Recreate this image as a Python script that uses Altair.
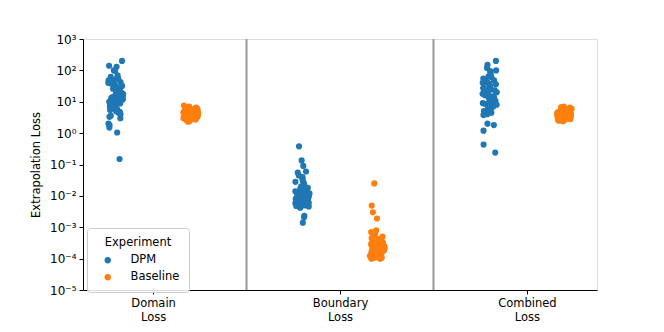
import json
import altair as alt
import pandas as pd

categories = ["Domain Loss", "Boundary Loss", "Combined Loss"]
experiments = ["DPM", "Baseline"]
colors = ["#1f77b4", "#ff7f0e"]
tick_values = [1e-5, 1e-4, 1e-3, 1e-2, 1e-1, 1e0, 1e1, 1e2, 1e3]
tick_labels = ["10⁻⁵", "10⁻⁴", "10⁻³", "10⁻²", "10⁻¹", "10⁰", "10¹", "10²", "10³"]

domain_dpm = [200, 140, 130, 100, 98, 70, 62, 55, 52, 48, 45, 42, 40, 38, 35, 32, 30, 28, 26, 25,
              24, 22, 21, 20, 19, 18, 17.5, 17, 16, 15.5, 15, 14, 13.5, 13, 12.5, 12, 11.5, 11, 10.5, 10,
              10, 9.8, 9.5, 9, 8.8, 8.5, 8, 7.8, 7.5, 7, 6.8, 6.5, 6, 5.8, 5.5, 5, 4.8, 4.5, 4, 3.6,
              3.3, 3.0, 2.0, 1.8, 1.5, 1.05, 0.15]
domain_base = [7.5, 7.0, 6.8, 6.5, 6.2, 6.0, 6.0, 5.8, 5.6, 5.5, 5.4, 5.3, 5.2, 5.1, 5.0, 4.9, 4.8, 4.8,
               4.7, 4.6, 4.5, 4.5, 4.4, 4.3, 4.2, 4.2, 4.1, 4.0, 4.0, 3.9, 3.9, 3.8, 3.8, 3.7, 3.7, 3.6,
               3.6, 3.5, 3.5, 3.4, 3.4, 3.3, 3.3, 3.2, 3.2, 3.1, 3.0, 3.0, 2.9, 2.9, 2.8, 2.7, 2.6, 2.5,
               2.4, 2.3, 4.6, 4.4, 5.5, 3.9]
boundary_dpm = [0.38, 0.135, 0.09, 0.06, 0.055, 0.045, 0.04, 0.035, 0.03, 0.028, 0.025, 0.022, 0.02,
                0.018, 0.017, 0.016, 0.015, 0.014, 0.013, 0.013, 0.012, 0.012, 0.011, 0.011, 0.011,
                0.010, 0.010, 0.010, 0.0098, 0.0095, 0.0093, 0.009, 0.009, 0.0088, 0.0085, 0.0083,
                0.008, 0.008, 0.0078, 0.0075, 0.0073, 0.007, 0.007, 0.0068, 0.0065, 0.0063, 0.006,
                0.006, 0.0058, 0.0055, 0.0053, 0.005, 0.005, 0.0048, 0.0046, 0.0044, 0.0042, 0.0023,
                0.0021, 0.0014]
boundary_base = [0.025, 0.0049, 0.003, 0.0019, 0.0008, 0.0007, 0.00065, 0.0006, 0.00055, 0.0005,
                 0.00048, 0.00045, 0.00042, 0.0004, 0.00038, 0.00036, 0.00035, 0.00033, 0.00032,
                 0.0003, 0.0003, 0.00029, 0.00028, 0.00027, 0.00026, 0.00025, 0.00025, 0.00024,
                 0.00023, 0.00022, 0.00022, 0.00021, 0.0002, 0.0002, 0.00019, 0.00019, 0.00018,
                 0.00018, 0.00017, 0.00017, 0.00016, 0.00016, 0.00015, 0.00015, 0.00015, 0.00014,
                 0.00014, 0.00013, 0.00013, 0.00013, 0.00012, 0.00012, 0.00012, 0.00011, 0.00011,
                 0.00011, 0.000105, 0.000105, 0.0001, 0.0001]
combined_dpm = [200, 150, 120, 100, 95, 90, 80, 70, 65, 60, 55, 50, 48, 45, 42, 40, 38, 36, 34, 32,
                30, 28, 27, 26, 25, 24, 23, 22, 21, 20, 19, 18, 17, 16, 15, 14, 13.5, 13, 12, 11.5,
                11, 10.5, 10, 9.5, 9, 8.5, 8, 7.5, 7, 6.5, 6, 5.5, 5, 4.5, 4.0, 3.8, 2.0, 1.8, 1.2,
                0.43, 0.24]
combined_base = [7.0, 6.8, 6.5, 6.3, 6.1, 6.0, 5.8, 5.7, 5.5, 5.4, 5.3, 5.2, 5.1, 5.0, 4.9, 4.8, 4.8,
                 4.7, 4.6, 4.5, 4.5, 4.4, 4.3, 4.2, 4.2, 4.1, 4.0, 4.0, 3.9, 3.9, 3.8, 3.8, 3.7, 3.7,
                 3.6, 3.6, 3.5, 3.5, 3.4, 3.4, 3.3, 3.3, 3.2, 3.2, 3.1, 3.0, 3.0, 2.9, 2.9, 2.8, 2.7,
                 2.6, 2.5, 2.4, 4.6, 4.4, 5.5, 3.9]

groups = [
    (categories[0], experiments[0], domain_dpm),
    (categories[0], experiments[1], domain_base),
    (categories[1], experiments[0], boundary_dpm),
    (categories[1], experiments[1], boundary_base),
    (categories[2], experiments[0], combined_dpm),
    (categories[2], experiments[1], combined_base),
]
rows = []
for cat, exp, vals in groups:
    for v in vals:
        rows.append({"category": cat, "experiment": exp, "loss": v})
df = pd.DataFrame(rows)

cats_js = json.dumps(categories)
labels_js = json.dumps(tick_labels, ensure_ascii=False)
font = "DejaVu Sans"

xscale = alt.Scale(domain=[-0.375, 2.375], nice=False, zero=False)

points = alt.Chart(df).transform_window(
    n="row_number()", groupby=["category", "experiment"]
).transform_calculate(
    ci=f"indexof({cats_js}, datum.category)"
).transform_calculate(
    jit="(abs(sin(datum.n * 12.9898 + datum.ci * 78.233 + (datum.experiment == 'DPM' ? 0 : 3.7)) * 43758.5453) % 1 - 0.5) * 0.08"
).transform_calculate(
    xpos="datum.ci + (datum.experiment == 'DPM' ? -0.2 : 0.2) + datum.jit"
).mark_circle(size=38, opacity=1).encode(
    x=alt.X("xpos:Q", scale=xscale, title=None,
            axis=alt.Axis(values=[0, 1, 2],
                          labelExpr=f"split({cats_js}[datum.value], ' ')",
                          grid=False, domainColor="black", tickColor="black",
                          tickSize=4, labelPadding=3, labelFontSize=11.5,
                          labelColor="black", labelFont=font, labelLineHeight=14)),
    y=alt.Y("loss:Q",
            scale=alt.Scale(type="log", domain=[1e-5, 1e3], nice=False),
            title="Extrapolation Loss",
            axis=alt.Axis(values=tick_values,
                          labelExpr=f"{labels_js}[round(log(datum.value) / LN10) + 5]",
                          grid=False, domainColor="black", tickColor="black",
                          tickSize=4, labelPadding=3, labelFontSize=12,
                          labelColor="black", labelFont=font,
                          titleFont=font, titleFontSize=11.5, titleFontWeight="normal",
                          titleColor="black", titlePadding=8)),
    color=alt.Color("experiment:N",
                    scale=alt.Scale(domain=experiments, range=colors),
                    sort=experiments,
                    legend=alt.Legend(title="Experiment", orient="none",
                                      legendX=4, legendY=189,
                                      titleFont=font, titleFontSize=11.5,
                                      titleFontWeight="normal", titleColor="black",
                                      titleAnchor="middle", titlePadding=6,
                                      labelFont=font, labelFontSize=11.5, labelColor="black",
                                      symbolType="circle", symbolSize=40, symbolOpacity=1,
                                      symbolOffset=6, labelOffset=17, rowPadding=4,
                                      padding=9, fillColor="rgba(255,255,255,0.85)",
                                      strokeColor="#cccccc", cornerRadius=3)),
)

dividers_df = pd.DataFrame({"b": [0.5, 1.5]})
dividers = alt.Chart(dividers_df).mark_rule(color="#9a9a9a", strokeWidth=2).encode(
    x=alt.X("b:Q", scale=xscale)
)

chart = alt.layer(dividers, points).properties(
    width=514, height=251,
    autosize=alt.AutoSizeParams(type="none"),
    padding={"left": 75, "top": 31, "right": 50, "bottom": 42},
).configure_view(stroke="#666666", strokeWidth=1).configure(background="white")

chart.save("out.html", embed_options={"renderer": "svg", "actions": False})
